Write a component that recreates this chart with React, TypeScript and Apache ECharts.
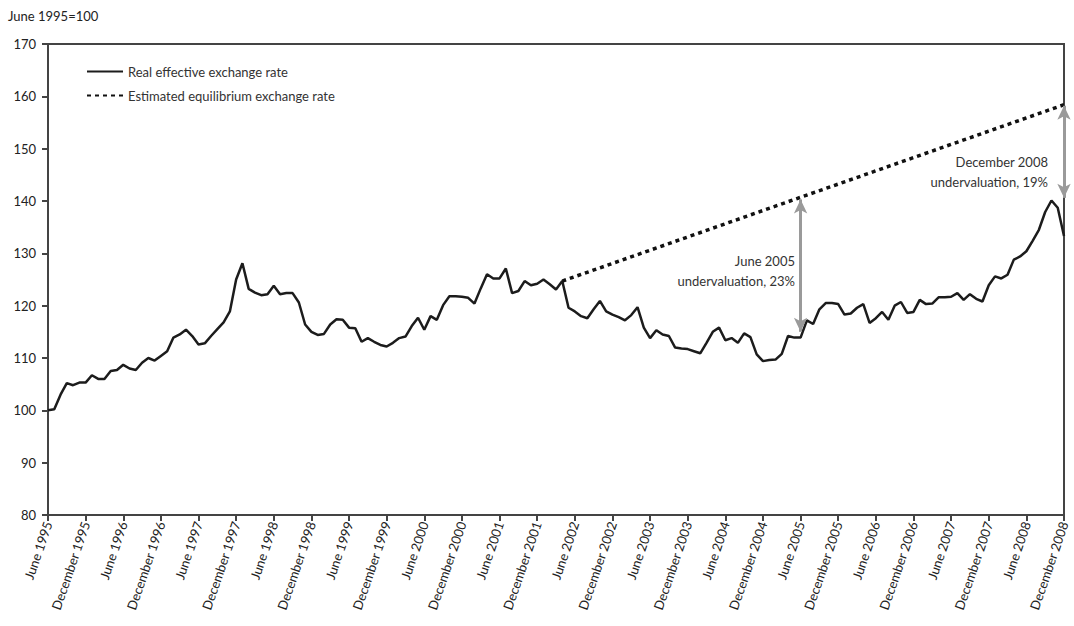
import React, { useEffect, useRef } from 'react';
import * as echarts from 'echarts';

const monthNames = [
  'January', 'February', 'March', 'April', 'May', 'June',
  'July', 'August', 'September', 'October', 'November', 'December',
];
const startYear = 1995;
const startMonthIndex = 5; // June

// Real effective exchange rate, monthly, June 1995 = 100
const reer = [
  100.0, 100.2, 103.0, 105.2, 104.8, 105.3, 105.3, 106.7, 106.0, 106.0,
  107.5, 107.7, 108.7, 108.0, 107.7, 109.1, 110.0, 109.5, 110.4, 111.3,
  113.9, 114.5, 115.4, 114.2, 112.6, 112.8, 114.2, 115.5, 116.8, 118.9,
  125.0, 128.1, 123.2, 122.5, 122.0, 122.2, 123.8, 122.2, 122.4, 122.4,
  120.6, 116.4, 115.0, 114.4, 114.6, 116.4, 117.4, 117.3, 115.8, 115.7,
  113.1, 113.8, 113.1, 112.5, 112.2, 112.9, 113.8, 114.1, 116.1, 117.7,
  115.4, 118.0, 117.3, 120.1, 121.8, 121.8, 121.7, 121.5, 120.4, 123.3,
  126.0, 125.2, 125.2, 127.1, 122.4, 122.8, 124.7, 123.9, 124.2, 125.0,
  124.1, 123.1, 124.7, 119.6, 118.9, 118.0, 117.6, 119.3, 120.9, 118.9,
  118.3, 117.8, 117.2, 118.2, 119.7, 115.8, 113.8, 115.3, 114.5, 114.2,
  112.0, 111.8, 111.7, 111.3, 110.9, 112.9, 115.0, 115.8, 113.4, 113.8,
  112.9, 114.7, 114.0, 110.7, 109.4, 109.6, 109.7, 110.8, 114.2, 113.9,
  113.9, 117.2, 116.5, 119.3, 120.5, 120.5, 120.3, 118.3, 118.5, 119.6,
  120.3, 116.7, 117.6, 118.8, 117.3, 120.0, 120.7, 118.6, 118.8, 121.1,
  120.3, 120.4, 121.6, 121.6, 121.7, 122.4, 121.1, 122.2, 121.3, 120.8,
  123.9, 125.6, 125.2, 125.9, 128.8, 129.4, 130.4, 132.4, 134.5, 137.9,
  140.1, 138.7, 133.3,
];

// Estimated equilibrium exchange rate (straight line between two points)
const equilibriumStartIndex = 82;
const equilibriumStartValue = 124.7;
const equilibriumEndValue = 158.4;

// Undervaluation arrows
const arrow2005 = { category: 'June 2005', from: 115.0, to: 140.3 };
const arrow2008 = { category: 'December 2008', from: 140.6, to: 158.2 };

const yTicks = { min: 80, max: 170, interval: 10 };

const categories: string[] = reer.map((_, i) => {
  const m = (startMonthIndex + i) % 12;
  const y = startYear + Math.floor((startMonthIndex + i) / 12);
  return `${monthNames[m]} ${y}`;
});

const equilibriumData: (number | null)[] = reer.map((_, i) =>
  i === equilibriumStartIndex
    ? equilibriumStartValue
    : i === reer.length - 1
    ? equilibriumEndValue
    : null
);

const FONT = 'Lato, "Liberation Sans", Arial, sans-serif';

export default function App() {
  const ref = useRef<HTMLDivElement>(null);
  useEffect(() => {
    if (!ref.current) return;
    const chart = echarts.init(ref.current, undefined, { renderer: 'svg' });
    const axisColor = '#444';
    chart.setOption({
      animation: false,
      backgroundColor: '#ffffff',
      textStyle: { fontFamily: FONT },
      grid: {
        left: 48,
        right: 10,
        top: 44,
        bottom: 111,
        show: true,
        borderColor: axisColor,
        borderWidth: 2,
        backgroundColor: 'transparent',
      },
      legend: {
        orient: 'vertical',
        left: 81,
        top: 60,
        itemWidth: 36,
        itemHeight: 14,
        itemGap: 11,
        itemStyle: { opacity: 0 },
        textStyle: { fontSize: 13, color: '#333', fontFamily: FONT },
        data: ['Real effective exchange rate', 'Estimated equilibrium exchange rate'],
      },
      xAxis: {
        type: 'category',
        data: categories,
        boundaryGap: false,
        axisLine: { lineStyle: { color: axisColor, width: 2 } },
        axisTick: { interval: 5, length: 6, lineStyle: { color: axisColor, width: 2 } },
        axisLabel: {
          interval: 5,
          rotate: 71,
          fontSize: 13,
          color: '#222',
          margin: 7,
          fontFamily: FONT,
        },
        splitLine: { show: false },
      },
      yAxis: {
        type: 'value',
        min: yTicks.min,
        max: yTicks.max,
        interval: yTicks.interval,
        axisLine: { show: true, lineStyle: { color: axisColor, width: 2 } },
        axisTick: { show: true, length: 6, lineStyle: { color: axisColor, width: 2 } },
        axisLabel: { fontSize: 13, color: '#222', margin: 12, fontFamily: FONT },
        splitLine: { show: false },
      },
      series: [
        {
          name: 'Real effective exchange rate',
          type: 'line',
          data: reer,
          symbol: 'none',
          lineStyle: { color: '#1c1c1c', width: 2.5 },
          itemStyle: { color: '#1c1c1c' },
          z: 3,
          markLine: {
            silent: true,
            symbol: ['arrow', 'arrow'],
            symbolSize: [10, 14],
            label: { show: false },
            lineStyle: { color: '#9a9a9a', width: 3, type: 'solid' },
            data: [
              [
                { coord: [arrow2005.category, arrow2005.from] },
                { coord: [arrow2005.category, arrow2005.to] },
              ],
              [
                { coord: [arrow2008.category, arrow2008.from] },
                { coord: [arrow2008.category, arrow2008.to] },
              ],
            ],
          },
        },
        {
          name: 'Estimated equilibrium exchange rate',
          type: 'line',
          data: equilibriumData,
          connectNulls: true,
          symbol: 'none',
          lineStyle: { color: '#111', width: 3.5, type: [4, 4] },
          itemStyle: { color: '#111' },
          z: 4,
        },
      ],
      graphic: [
        {
          type: 'text',
          left: 8,
          top: 9,
          style: { text: 'June 1995=100', fontSize: 13, fill: '#222', fontFamily: FONT },
        },
        {
          type: 'text',
          x: 795,
          y: 251,
          style: {
            text: 'June 2005\nundervaluation, 23%',
            fontSize: 13,
            lineHeight: 20,
            fill: '#333',
            align: 'right',
            fontFamily: FONT,
          },
        },
        {
          type: 'text',
          x: 1048,
          y: 152,
          style: {
            text: 'December 2008\nundervaluation, 19%',
            fontSize: 13,
            lineHeight: 20,
            fill: '#333',
            align: 'right',
            fontFamily: FONT,
          },
        },
      ],
    });
    return () => chart.dispose();
  }, []);
  return (
    <div
      ref={ref}
      style={{ position: 'fixed', left: 0, top: 0, width: 1074, height: 626, background: '#fff' }}
    />
  );
}
